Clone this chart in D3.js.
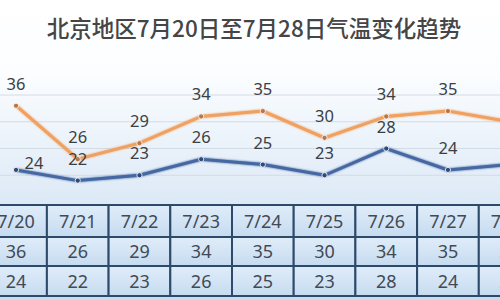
<!DOCTYPE html>
<html>
<head>
<meta charset="utf-8">
<script src="https://cdn.jsdelivr.net/npm/d3@7"></script>
<style>
  body { margin: 0; background: #fff; }
  svg { display: block; }
</style>
</head>
<body>
<div id="chart"></div>
<script>
// data
const dates = ['7/20', '7/21', '7/22', '7/23', '7/24', '7/25', '7/26', '7/27', '7/28'];
const highs = [36, 26, 29, 34, 35, 30, 34, 35, 33];
const lows = [24, 22, 23, 26, 25, 23, 28, 24, 25];
const gridValues = [23, 28, 33, 38];
const title = '北京地区7月20日至7月28日气温变化趋势';

const width = 500, height = 300;
const tableTop = 205, rowH = [32, 29, 30];

const svg = d3.select('#chart').append('svg')
    .attr('width', width)
    .attr('height', height);

const defs = svg.append('defs');

// page background: white at the top, pale blue lower down
const bg = defs.append('linearGradient')
    .attr('id', 'bgGrad').attr('x1', 0).attr('y1', 0).attr('x2', 0).attr('y2', 1);
bg.append('stop').attr('offset', '0%').attr('stop-color', '#ffffff');
bg.append('stop').attr('offset', '25%').attr('stop-color', '#fbfdff');
bg.append('stop').attr('offset', '68%').attr('stop-color', '#dce9f6');
bg.append('stop').attr('offset', '100%').attr('stop-color', '#c9dcef');

const cellGrad = defs.append('linearGradient')
    .attr('id', 'cellGrad').attr('x1', 0).attr('y1', 0).attr('x2', 0).attr('y2', 1);
cellGrad.append('stop').attr('offset', '0%').attr('stop-color', '#e0edf9');
cellGrad.append('stop').attr('offset', '100%').attr('stop-color', '#c6dbf0');

const glow = defs.append('filter').attr('id', 'glow')
    .attr('x', '-10%').attr('y', '-30%').attr('width', '120%').attr('height', '160%');
glow.append('feGaussianBlur').attr('in', 'SourceGraphic').attr('stdDeviation', 1.2).attr('result', 'b');
const merge = glow.append('feMerge');
merge.append('feMergeNode').attr('in', 'b');
merge.append('feMergeNode').attr('in', 'SourceGraphic');

svg.append('rect')
    .attr('width', width).attr('height', height)
    .attr('fill', 'url(#bgGrad)');

// scales
const x = d3.scaleBand()
    .domain(dates)
    .range([-14.8, -14.8 + 61.7 * dates.length]);

const y = d3.scaleLinear()
    .domain([18, 43])
    .range([202, 68.3]);

const cx = d => x(d) + x.bandwidth() / 2;

// title
svg.append('text')
    .attr('x', 254)
    .attr('y', 37)
    .attr('text-anchor', 'middle')
    .style('font-family', '"Noto Sans CJK SC", "Noto Sans", sans-serif')
    .style('font-size', '22.5px')
    .style('font-weight', 500)
    .style('fill', '#454545')
    .text(title);

// gridlines
svg.append('g')
    .selectAll('line')
    .data(gridValues)
    .join('line')
    .attr('x1', 0).attr('x2', width)
    .attr('y1', d => y(d)).attr('y2', d => y(d))
    .attr('stroke', '#d3dbe4')
    .attr('stroke-width', 1);

// lines
const series = [
    { values: highs, color: '#f0a05e', dot: '#b8764a' },
    { values: lows, color: '#4568a3', dot: '#2f4a78' }
];

const line = d3.line()
    .x((d, i) => cx(dates[i]))
    .y(d => y(d));

series.forEach(s => {
    svg.append('path')
        .datum(s.values)
        .attr('d', line)
        .attr('fill', 'none')
        .attr('stroke', s.color)
        .attr('stroke-width', 3)
        .attr('filter', 'url(#glow)');

    svg.append('g')
        .selectAll('circle')
        .data(s.values)
        .join('circle')
        .attr('cx', (d, i) => cx(dates[i]))
        .attr('cy', d => y(d))
        .attr('r', 2.6)
        .attr('fill', s.dot)
        .attr('stroke', '#fff')
        .attr('stroke-width', 0.8);
});

// value labels
const labelFont = '"Noto Sans", "DejaVu Sans", sans-serif';

series.forEach((s, k) => {
    svg.append('g')
        .selectAll('text')
        .data(s.values)
        .join('text')
        .attr('x', (d, i) => cx(dates[i]) + (k === 1 && i === 0 ? 18 : 0))
        .attr('y', (d, i) => y(d) - (k === 1 && i === 0 ? 1 : 16))
        .attr('text-anchor', 'middle')
        .style('font-family', labelFont)
        .style('font-size', '16.5px')
        .style('fill', '#3c3f44')
        .text(d => d);
});

// table under the chart
const rows = [dates, highs, lows];
let rowTop = tableTop;
const table = svg.append('g');

rows.forEach((row, r) => {
    const h = rowH[r];
    table.append('g')
        .selectAll('rect')
        .data(dates)
        .join('rect')
        .attr('x', d => x(d))
        .attr('y', rowTop)
        .attr('width', x.bandwidth())
        .attr('height', h)
        .attr('fill', 'url(#cellGrad)')
        .attr('stroke', '#2e4a6b')
        .attr('stroke-width', 2);

    table.append('g')
        .selectAll('text')
        .data(row)
        .join('text')
        .attr('x', (d, i) => cx(dates[i]))
        .attr('y', rowTop + h / 2 + 6.5)
        .attr('text-anchor', 'middle')
        .style('font-family', labelFont)
        .style('font-size', '18px')
        .style('fill', '#424a55')
        .text(d => d);

    rowTop += h;
});
</script>
</body>
</html>
